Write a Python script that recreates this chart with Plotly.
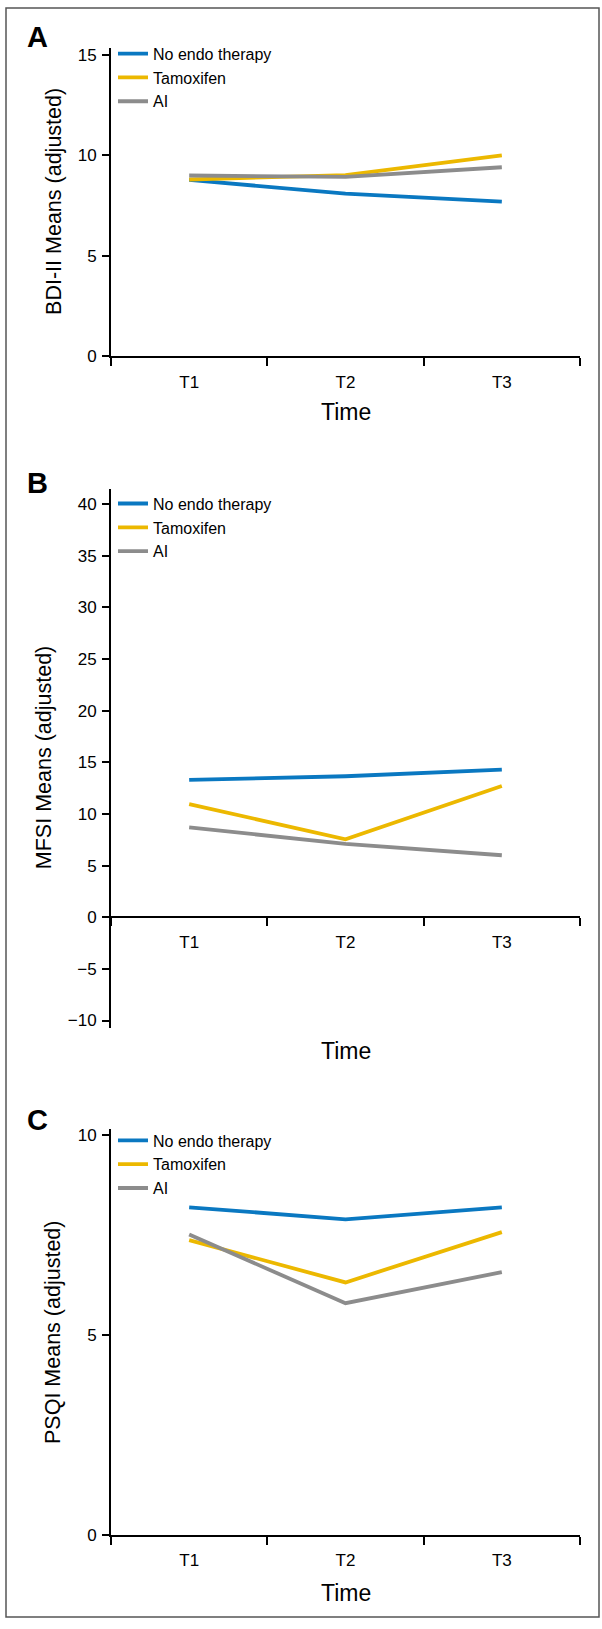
import plotly.graph_objects as go

# ---------------- data ----------------
times = ["T1", "T2", "T3"]
series_names = ["No endo therapy", "Tamoxifen", "AI"]
series_colors = ["#0A78C1", "#ECB800", "#8C8C8C"]

bdi_no_endo = [8.78, 8.10, 7.70]
bdi_tamoxifen = [8.80, 9.02, 10.0]
bdi_ai = [9.00, 8.93, 9.41]

mfsi_no_endo = [13.3, 13.65, 14.3]
mfsi_tamoxifen = [10.95, 7.55, 12.7]
mfsi_ai = [8.7, 7.1, 6.0]

psqi_no_endo = [8.2, 7.9, 8.2]
psqi_tamoxifen = [7.38, 6.32, 7.58]
psqi_ai = [7.52, 5.80, 6.58]

panel_letters = ["A", "B", "C"]
y_titles = ["BDI-II Means (adjusted)", "MFSI Means (adjusted)", "PSQI Means (adjusted)"]
x_title = "Time"

# ---------------- layout helpers ----------------
W, H = 602, 1629


def fx(p):
    return p / W


def fy(p):
    return 1 - p / H


SANS = "Liberation Sans, Arial, Helvetica, sans-serif"

panels = [
    dict(vals=[bdi_no_endo, bdi_tamoxifen, bdi_ai], yrange=[0, 15.37], ypx=(356, 45),
         letter_y=34, title_x=54, time_y=412, legend_top=34),
    dict(vals=[mfsi_no_endo, mfsi_tamoxifen, mfsi_ai], yrange=[-10.7, 41.5], ypx=(1033, 489.5),
         letter_y=484, title_x=44, time_y=1056, legend_top=487.5),
    dict(vals=[psqi_no_endo, psqi_tamoxifen, psqi_ai], yrange=[0, 10.16], ypx=(1544.4, 1135),
         letter_y=1126, title_x=53, time_y=1603, legend_top=1129.5),
]

x_dom = [fx(111), fx(580)]

fig = go.Figure()
layout = dict(
    width=W, height=H,
    margin=dict(l=0, r=0, t=0, b=0),
    paper_bgcolor="white", plot_bgcolor="white",
    font=dict(family=SANS, size=16, color="black"),
    showlegend=True,
    annotations=[], shapes=[],
)

for i, p in enumerate(panels):
    k = "" if i == 0 else str(i + 1)
    xa, ya = "x" + k, "y" + k
    leg = "legend" + k
    for name, vals, col in zip(series_names, p["vals"], series_colors):
        fig.add_trace(go.Scatter(
            x=times, y=vals, name=name, mode="lines",
            line=dict(color=col, width=3.8),
            xaxis=xa, yaxis=ya, legend=leg, hoverinfo="skip",
        ))
    y0 = fy(p["ypx"][0])
    y1 = fy(p["ypx"][1])
    ymin, ymax = p["yrange"]
    xaxis = dict(
        domain=x_dom, type="category", categoryorder="array", categoryarray=times,
        range=[-0.5, 2.5], tickson="boundaries", ticks="outside", ticklen=8,
        tickwidth=1.5, tickcolor="black", showline=True, linewidth=2, linecolor="black",
        showgrid=False, zeroline=False, tickfont=dict(size=17, family=SANS, color="black"),
        ticklabelstandoff=9, fixedrange=True,
    )
    if ymin < 0:
        xaxis["anchor"] = "free"
        xaxis["position"] = y0 + (0 - ymin) / (ymax - ymin) * (y1 - y0)
    else:
        xaxis["anchor"] = ya
    yaxis = dict(
        domain=[y0, y1], range=p["yrange"], anchor=xa, tick0=0, dtick=5,
        ticks="outside", ticklen=7, tickwidth=1.5, tickcolor="black",
        showline=True, linewidth=2, linecolor="black", showgrid=False, zeroline=False,
        tickfont=dict(size=17, family=SANS, color="black"), ticklabelstandoff=2,
        fixedrange=True,
    )
    layout["xaxis" + k] = xaxis
    layout["yaxis" + k] = yaxis
    layout[leg] = dict(
        x=fx(113), xanchor="left", y=fy(p["legend_top"]), yanchor="top",
        bgcolor="rgba(0,0,0,0)", borderwidth=0,
        font=dict(size=16, family=SANS, color="black"),
    )
    # panel letter
    layout["annotations"].append(dict(
        text="<b>%s</b>" % panel_letters[i], xref="paper", yref="paper",
        x=fx(37), y=fy(p["letter_y"]), xanchor="center", yanchor="middle",
        showarrow=False, font=dict(size=29, family=SANS, color="black"),
    ))
    # y title
    layout["annotations"].append(dict(
        text=y_titles[i], xref="paper", yref="paper", textangle=-90,
        x=fx(p["title_x"]), y=(y0 + y1) / 2, xanchor="center", yanchor="middle",
        showarrow=False, font=dict(size=21.5, family=SANS, color="black"),
    ))
    # x title
    layout["annotations"].append(dict(
        text=x_title, xref="paper", yref="paper",
        x=(x_dom[0] + x_dom[1]) / 2, y=fy(p["time_y"]), xanchor="center", yanchor="middle",
        showarrow=False, font=dict(size=23, family=SANS, color="black"),
    ))

# outer frame
layout["shapes"].append(dict(
    type="rect", xref="paper", yref="paper",
    x0=fx(6), x1=fx(599), y0=fy(1627), y1=fy(5),
    line=dict(color="#555555", width=1.5), fillcolor="rgba(0,0,0,0)", layer="below",
))

fig.update_layout(**layout)
fig.write_html(
    "out.html",
    config={"displayModeBar": False, "staticPlot": False},
    post_script="document.body.style.margin='0';",
)
